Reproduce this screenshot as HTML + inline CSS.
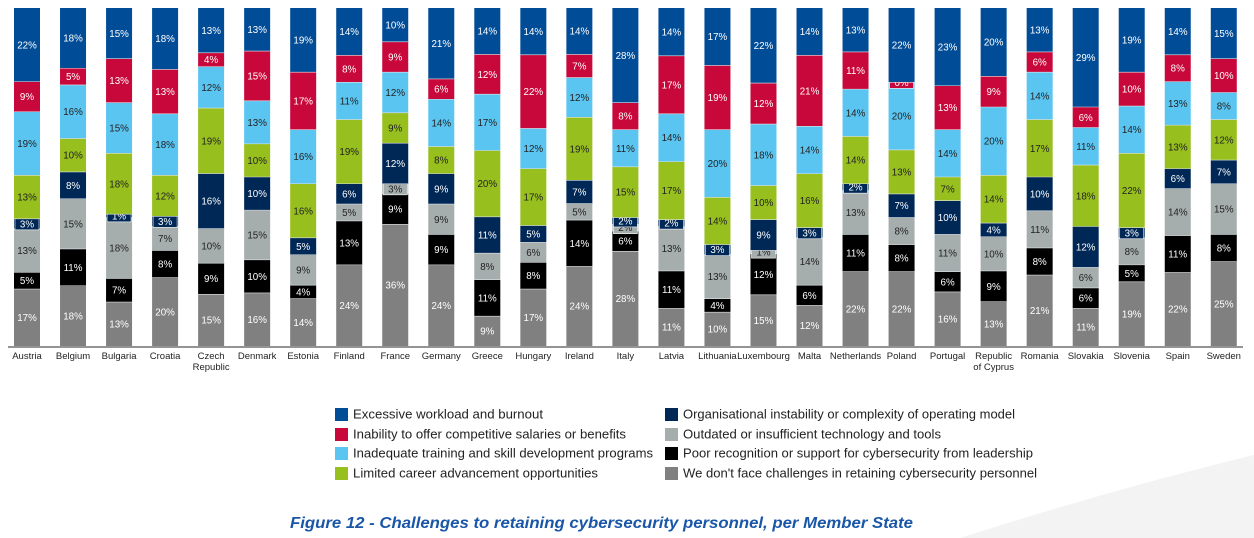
<!DOCTYPE html>
<html><head><meta charset="utf-8"><style>
body{margin:0;background:#fff;}
svg{display:block;font-family:"Liberation Sans",Arial,sans-serif;}
</style></head><body>
<svg id="chart" width="1254" height="538" viewBox="0 0 1254 538" xmlns="http://www.w3.org/2000/svg">
<path d="M960 538 Q1110 490 1254 455 L1254 538 Z" fill="#f3f3f3"/>
<g id="bars"></g>
<line x1="8" y1="347" x2="1243" y2="347" stroke="#555" stroke-width="1.2"/>
<g id="xlabels"></g>
<g id="legend"></g>
<text x="290" y="528" font-size="16" font-weight="bold" font-style="italic" fill="#1a56a8" textLength="623" lengthAdjust="spacingAndGlyphs">Figure 12 - Challenges to retaining cybersecurity personnel, per Member State</text>
</svg>
<script>
const countries=["Austria","Belgium","Bulgaria","Croatia","Czech|Republic","Denmark","Estonia","Finland","France","Germany","Greece","Hungary","Ireland","Italy","Latvia","Lithuania","Luxembourg","Malta","Netherlands","Poland","Portugal","Republic|of Cyprus","Romania","Slovakia","Slovenia","Spain","Sweden"];
const seriesNames=["We don't face challenges in retaining cybersecurity personnel","Poor recognition or support for cybersecurity from leadership","Outdated or insufficient technology and tools","Organisational instability or complexity of operating model","Limited career advancement opportunities","Inadequate training and skill development programs","Inability to offer competitive salaries or benefits","Excessive workload and burnout"];
const noChallenges=[17,18,13,20,15,16,14,24,36,24,9,17,24,28,11,10,15,12,22,22,16,13,21,11,19,22,25];
const poorRecognition=[5,11,7,8,9,10,4,13,9,9,11,8,14,6,11,4,12,6,11,8,6,9,8,6,5,11,8];
const outdatedTech=[13,15,18,7,10,15,9,5,3,9,8,6,5,2,13,13,1,14,13,8,11,10,11,6,8,14,15];
const orgInstability=[3,8,1,3,16,10,5,6,12,9,11,5,7,2,2,3,9,3,2,7,10,4,10,12,3,6,7];
const careerLimited=[13,10,18,12,19,10,16,19,9,8,20,17,19,15,17,14,10,16,14,13,7,14,17,18,22,13,12];
const trainingInadequate=[19,16,15,18,12,13,16,11,12,14,17,12,12,11,14,20,18,14,14,20,14,20,14,11,14,13,8];
const salaries=[9,5,13,13,4,15,17,8,9,6,12,22,7,8,17,19,12,21,11,0,13,9,6,6,10,8,10];
const workload=[22,18,15,18,13,13,19,14,10,21,14,14,14,28,14,17,22,14,13,22,23,20,13,29,19,14,15];
const series=[noChallenges,poorRecognition,outdatedTech,orgInstability,careerLimited,trainingInadequate,salaries,workload];
const colors=["#808080","#000000","#a6adad","#002856","#97bf1e","#5bc5f2","#c8083a","#004c97"];
const textCol=["#fff","#fff","#222","#fff","#222","#222","#fff","#fff"];
const keys=["none","poor-recognition","outdated-tech","org-instability","career","training","salaries","workload"];
const NS="http://www.w3.org/2000/svg";
const top0=8,bottom0=346,x0=14,step=46.03,bw=26;
const xPos=i=>x0+i*step;
const bars=document.getElementById('bars');
function mk(tag,attrs,parent){const e=document.createElementNS(NS,tag);for(const k in attrs)e.setAttribute(k,attrs[k]);parent.appendChild(e);return e;}
countries.forEach((c,i)=>{
  let total=0;series.forEach(s=>total+=s[i]);
  const yScale=v=>v/total*(bottom0-top0);
  let y=bottom0;
  const g=mk('g',{},bars);
  
  
  series.forEach((s,k)=>{
    const h=yScale(s[i]);y-=h;
    const r=mk('rect',{x:xPos(i),y:y,width:bw,height:Math.max(h,0),fill:colors[k]},g);
    
    
    if(k>0&&h>0)mk('line',{x1:xPos(i),x2:xPos(i)+bw,y1:y+h,y2:y+h,stroke:'#dfe3e6','stroke-width':0.6},g);
    const cy=y+h/2;
    if(h<12){mk('rect',{x:xPos(i)+1,y:cy-6,width:bw-2,height:12,fill:colors[k],stroke:'#fff','stroke-width':0.6},g);}
    const t=mk('text',{x:xPos(i)+bw/2,y:cy+3.5,'text-anchor':'middle','font-size':9.8,fill:textCol[k]},g);
    
    
    t.textContent=s[i]+'%';
  });
});
const xl=document.getElementById('xlabels');
countries.forEach((c,i)=>{
  c.split('|').forEach((line,j)=>{
    const t=mk('text',{x:xPos(i)+bw/2,y:359+j*11,'text-anchor':'middle','font-size':9.5,fill:'#222'},xl);
    
    
    t.textContent=line;
  });
});
const legendItems=[[7,335,414,190],[6,335,434,273],[5,335,453,300],[4,335,473,245],[3,665,414,332],[2,665,434,258],[1,665,453,350],[0,665,473,354]];
const lg=document.getElementById('legend');
legendItems.forEach(([k,x,y,len])=>{
  const g=mk('g',{},lg);
  
  
  mk('rect',{x:x,y:y-6,width:13,height:13,fill:colors[k]},g);
  const t=mk('text',{x:x+18,y:y+4.5,'font-size':12.5,fill:'#222',textLength:len,lengthAdjust:'spacingAndGlyphs'},g);
  t.textContent=seriesNames[k];
});
</script>
</body></html>
